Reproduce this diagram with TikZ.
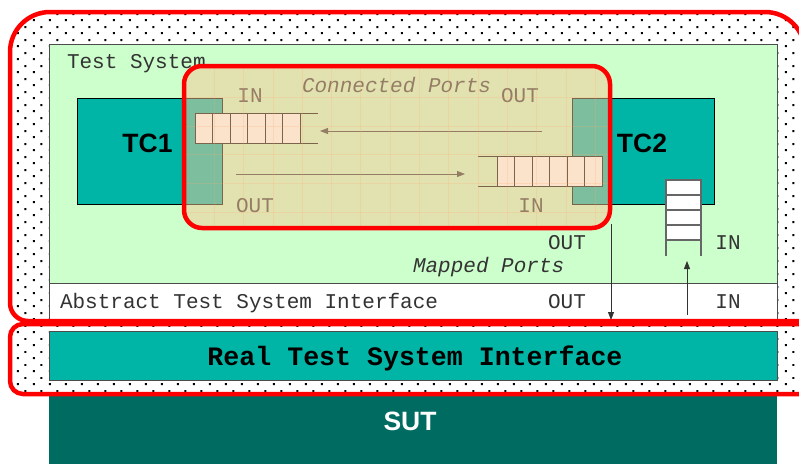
\documentclass[tikz,border=0pt]{standalone}
\usepackage{fontspec}
\setmainfont{Liberation Sans}
\newfontfamily\cour{Liberation Mono}
\usetikzlibrary{patterns,arrows.meta}
\definecolor{tealA}{RGB}{0,181,165}
\definecolor{sutc}{RGB}{0,107,96}
\definecolor{lgreen}{RGB}{204,255,204}
\definecolor{peach}{RGB}{248,199,151}
\definecolor{gridc}{RGB}{255,170,110}
\pgfdeclarepatternformonly{mydots}{\pgfqpoint{0pt}{0pt}}{\pgfqpoint{16pt}{13pt}}{\pgfqpoint{16pt}{13pt}}{%
  \pgfpathrectangle{\pgfqpoint{1pt}{1pt}}{\pgfqpoint{2pt}{2pt}}%
  \pgfpathrectangle{\pgfqpoint{9pt}{7.5pt}}{\pgfqpoint{2pt}{2pt}}%
  \pgfusepath{fill}}
\begin{document}
\begin{tikzpicture}[x=1pt,y=-1pt,
  box/.style={draw=black!70, line width=0.8pt, inner sep=0pt, outer sep=0pt, anchor=north west},
  lbl/.style={font=\cour\fontsize{21pt}{24pt}\selectfont, text=black!80, inner sep=0pt, outer sep=0pt},
  ital/.style={lbl, font=\cour\itshape\fontsize{21pt}{24pt}\selectfont},
  big/.style={font=\fontsize{26.5pt}{30pt}\selectfont\bfseries, inner sep=0pt, outer sep=0pt, anchor=base},
  cell/.style={draw=black, line width=0.9pt, fill=white, inner sep=0pt, outer sep=0pt, anchor=north west, minimum width=17.5pt, minimum height=30pt},
  vcell/.style={draw=black!60, line width=1.2pt, fill=white, inner sep=0pt, outer sep=0pt, anchor=north west, minimum width=35pt, minimum height=15pt},
  arr/.style={draw=black!80, line width=0.8pt, -{Triangle[length=8pt,width=6pt]}},
  redline/.style={draw=red, line width=4.5pt},
]
\useasboundingbox (0,0) rectangle (799,463);
\clip (0,0) rectangle (799,463);

% dotted background inside the red outlines
\fill[white] (805,321) -- (28,321) arc(90:180:18) -- (10,52) arc(180:270:40) -- (765,12) arc(270:360:40) -- cycle;
\fill[pattern=mydots, pattern color=black] (805,321) -- (28,321) arc(90:180:18) -- (10,52) arc(180:270:40) -- (765,12) arc(270:360:40) -- cycle;
\fill[white] (805,324) -- (23,324) arc(270:180:13) -- (10,381) arc(180:90:13) -- (805,394) -- cycle;
\fill[pattern=mydots, pattern color=black] (805,324) -- (23,324) arc(270:180:13) -- (10,381) arc(180:90:13) -- (805,394) -- cycle;

% main boxes
\node[box, fill=lgreen, minimum width=728pt, minimum height=239pt] (ts) at (49,44) {};
\node[box, fill=white, minimum width=728pt, minimum height=38pt] (ati) at (49,283) {};
\node[box, fill=tealA, minimum width=728pt, minimum height=49pt] (rtsi) at (49,331) {};
\node[box, draw=none, fill=sutc, minimum width=728pt, minimum height=70pt] (sut) at (49,396) {};

% test components
\node[box, draw=black, fill=tealA, minimum width=145pt, minimum height=106pt] (tc1) at (77,98) {};
\node[box, draw=black, fill=tealA, minimum width=142pt, minimum height=106pt] (tc2) at (572,98) {};

% queue of TC1 (IN)
\foreach \i in {0,...,5} {\node[cell] (qa\i) at ({195+\i*17.5},113) {};}
\coordinate (qaT) at (318,113);
\coordinate (qaB) at (318,143);
\draw[black, line width=0.9pt] (qa5.north east) -- (qaT);
\draw[black, line width=0.9pt] (qa5.south east) -- (qaB);

% queue of TC2 (IN)
\foreach \i in {0,...,5} {\node[cell] (qb\i) at ({497+\i*17.5},156) {};}
\coordinate (qbT) at (478,156);
\coordinate (qbB) at (478,186);
\draw[black, line width=0.9pt] (qb0.north west) -- (qbT);
\draw[black, line width=0.9pt] (qb0.south west) -- (qbB);

% mapped queue of TC2 (vertical)
\foreach \i in {0,...,3} {\node[vcell] (qc\i) at (666,{180+\i*15}) {};}
\coordinate (qcL) at (666,256);
\coordinate (qcR) at (701,256);
\draw[black!60, line width=1.2pt] (qc3.south west) -- (qcL);
\draw[black!60, line width=1.2pt] (qc3.south east) -- (qcR);

% connector arrows
\coordinate (a1s) at (542,131); \coordinate (a1e) at (320,131);
\coordinate (a2s) at (236,174); \coordinate (a2e) at (465,174);
\coordinate (a3s) at (611,224); \coordinate (a3e) at (611,320);
\coordinate (a4s) at (687,315); \coordinate (a4e) at (687,261);
\draw[arr] (a1s) -- (a1e);
\draw[arr] (a2s) -- (a2e);
\draw[arr] (a3s) -- (a3e);
\draw[arr] (a4s) -- (a4e);

% labels
\node[lbl, anchor=base west] (tsl) at (67,68) {Test System};
\node[ital, anchor=base west] (cpl) at (302,92) {Connected Ports};
\node[lbl, anchor=base] (in1) at (250,102) {IN};
\node[lbl, anchor=base] (out1) at (255,212) {OUT};
\node[lbl, anchor=base] (out2) at (520,102) {OUT};
\node[lbl, anchor=base] (in2) at (531,212) {IN};
\node[lbl, anchor=base] (outm) at (567,249) {OUT};
\node[lbl, anchor=base] (inm) at (728,249) {IN};
\node[ital, anchor=base west] (mpl) at (413,272) {Mapped Ports};
\node[lbl, anchor=base west] (atl) at (60,308) {Abstract Test System Interface};
\node[lbl, anchor=base] (outa) at (567,308) {OUT};
\node[lbl, anchor=base] (ina) at (728,308) {IN};
\node[font=\cour\bfseries\fontsize{26.6pt}{30pt}\selectfont, anchor=base, inner sep=0pt] (rtl) at (415,365) {Real Test System Interface};
\node[big, text=white] (sutl) at (410,430) {SUT};
\node[big] (tc1l) at (147.5,152) {TC1};
\node[big] (tc2l) at (642,152) {TC2};

% connected ports overlay
\node[anchor=north west, inner sep=0pt, outer sep=0pt, minimum width=426pt, minimum height=162pt,
      rounded corners=18pt, fill=peach, fill opacity=0.5] (cp) at (184,66) {};
\begin{scope}
  \clip[rounded corners=18pt] (cp.north west) rectangle (cp.south east);
  \foreach \k in {0,...,14} {\draw[gridc, line width=0.8pt, opacity=0.22] ({185+\k*29.3},60) -- ({185+\k*29.3},235);}
  \foreach \k in {0,...,6} {\draw[gridc, line width=0.8pt, opacity=0.22] (180,{68.5+\k*28.7}) -- (615,{68.5+\k*28.7});}
\end{scope}
\draw[redline, rounded corners=18pt] (cp.north west) rectangle (cp.south east);

% red outlines
\draw[redline] (805,321) -- (28,321) arc(90:180:18) -- (10,52) arc(180:270:40) -- (765,12) arc(270:360:40) -- cycle;
\draw[redline] (805,324) -- (23,324) arc(270:180:13) -- (10,381) arc(180:90:13) -- (805,394) -- cycle;
\end{tikzpicture}
\end{document}
